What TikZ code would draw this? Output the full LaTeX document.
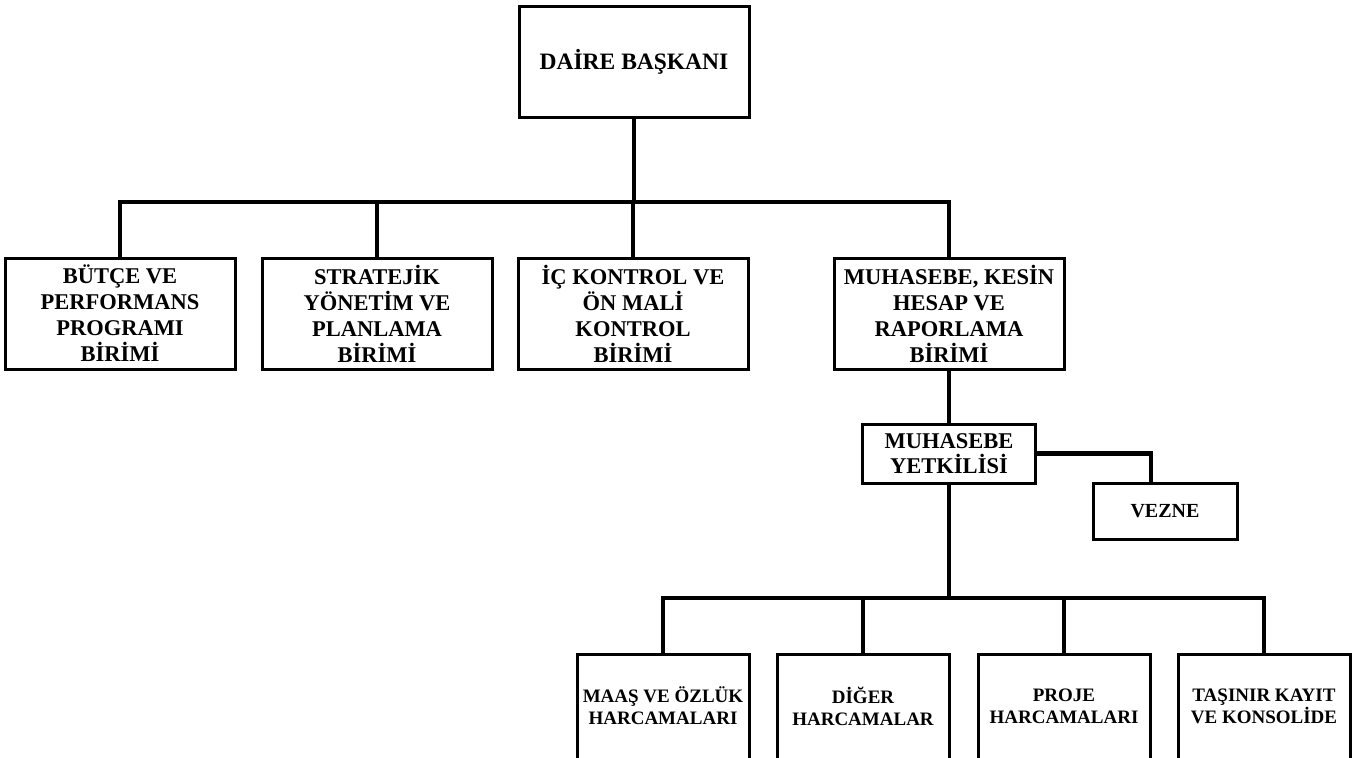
\documentclass[tikz,border=0pt]{standalone}
\usepackage{fontspec}
\setmainfont{Liberation Serif}
\begin{document}
\begin{tikzpicture}[x=1pt,y=-1pt,
  box/.style={draw=black, line width=3pt, inner sep=0pt, align=center,
    font=\bfseries\fontsize{22.5}{26}\selectfont},
  topbox/.style={box, font=\bfseries\fontsize{23.5}{27}\selectfont,
    minimum width=230pt, minimum height=111pt},
  midbox/.style={box, minimum width=230pt, minimum height=111pt},
  smallbox/.style={box, font=\bfseries\fontsize{22.5}{25}\selectfont},
  leafbox/.style={box, draw=none, outer sep=0pt, minimum width=172pt, minimum height=104pt,
    font=\bfseries\fontsize{19}{22}\selectfont},
  leafline/.style={draw=black, line width=3pt},
  conn/.style={draw=black, line width=4.5pt, line join=miter}]
\useasboundingbox (0,0) rectangle (1358,758);
\fill[white] (0,0) rectangle (1358,758);
\clip (0,0) rectangle (1358,758);

% coordinates of buses
\coordinate (bus1) at (634,202);
\coordinate (bus2) at (949,598);
\coordinate (vzc) at (1151,483);

% nodes
\node[topbox] (top) at (634,61.5) {DAİRE BAŞKANI};
\node[midbox] (n1) at (120,313.5) {BÜTÇE VE\\PERFORMANS\\PROGRAMI\\BİRİMİ};
\node[midbox] (n2) at (377,313.5) {STRATEJİK\\YÖNETİM VE\\PLANLAMA\\BİRİMİ};
\node[midbox] (n3) at (633,313.5) {İÇ KONTROL VE\\ÖN MALİ\\KONTROL\\BİRİMİ};
\node[midbox] (n4) at (949,313.5) {MUHASEBE, KESİN\\HESAP VE\\RAPORLAMA\\BİRİMİ};
\node[smallbox, minimum width=173pt, minimum height=59pt] (my) at (949,453.5) {MUHASEBE\\YETKİLİSİ};
\node[smallbox, minimum width=144pt, minimum height=56pt, font=\bfseries\fontsize{20}{24}\selectfont] (vz) at (1165,511) {VEZNE};
\node[leafbox] (m1) at (663,706) {MAAŞ VE ÖZLÜK\\HARCAMALARI};
\node[leafbox] (m2) at (863,706) {DİĞER\\HARCAMALAR};
\node[leafbox] (m3) at (1064,706) {PROJE\\HARCAMALARI};
\node[leafbox] (m4) at (1264,706) {TAŞINIR KAYIT\\VE KONSOLİDE};

% leaf box borders (open at the bottom edge of the picture)
\foreach \m in {m1,m2,m3,m4}{
  \draw[leafline] ([yshift=-20pt]\m.south west) -- (\m.north west) -- (\m.north east) -- ([yshift=-20pt]\m.south east);
}

% connectors
\draw[conn] (top.south) -- (top.south |- bus1);
\draw[conn] (n1.north) -- (n1.north |- bus1) -- (n4.north |- bus1) -- (n4.north);
\draw[conn] (n2.north) -- (n2.north |- bus1);
\draw[conn] (n3.north) -- (n3.north |- bus1);
\draw[conn] (n4.south) -- (my.north);
\draw[conn] (my.east) -| (vzc);
\draw[conn] (my.south) -- (my.south |- bus2);
\draw[conn] (m1.north) -- (m1.north |- bus2) -- (m4.north |- bus2) -- (m4.north);
\draw[conn] (m2.north) -- (m2.north |- bus2);
\draw[conn] (m3.north) -- (m3.north |- bus2);
\end{tikzpicture}
\end{document}
